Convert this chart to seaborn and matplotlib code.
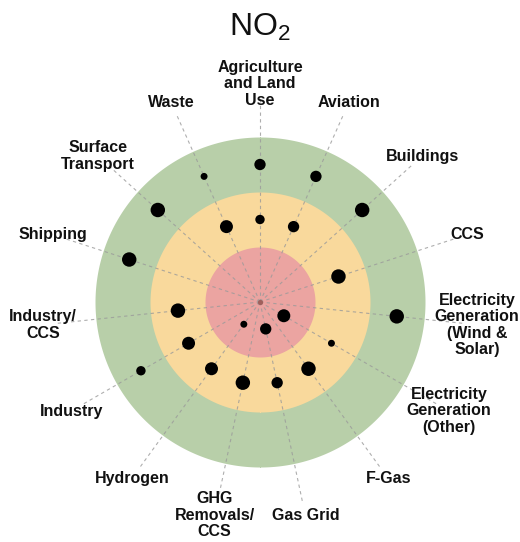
import numpy as np
import pandas as pd
import seaborn as sns
from matplotlib import pyplot as plt

# sectors, clockwise from the top
sectors = ['Agriculture\nand Land\nUse', 'Aviation', 'Buildings', 'CCS',
           'Electricity\nGeneration\n(Wind &\nSolar)', 'Electricity\nGeneration\n(Other)',
           'F-Gas', 'Gas Grid', 'GHG\nRemovals/\nCCS', 'Hydrogen', 'Industry',
           'Industry/\nCCS', 'Shipping', 'Surface\nTransport', 'Waste']

# one entry per dot: sector index, ring (1 = inner red, 3 = outer green), dot size score
dot_sector = [0, 0, 1, 1, 2, 3, 4, 5, 5, 6, 7, 7, 8, 9, 9, 10, 10, 11, 12, 13, 14, 14]
dot_ring = [3, 2, 3, 2, 3, 2, 3, 1, 2, 2, 1, 2, 2, 1, 2, 2, 3, 2, 3, 3, 3, 2]
dot_score = [3, 2, 3, 3, 5, 5, 5, 4, 1, 5, 3, 3, 5, 1, 4, 4, 2, 5, 5, 5, 1, 4]

ring_colors = ['#eba4a1', '#f9d99c', '#b8cfa9']
band = 55

sns.set_style('white')
plt.rcParams['font.family'] = ['Liberation Sans', 'DejaVu Sans']
plt.rcParams['mathtext.default'] = 'regular'

n = len(sectors)
angles = np.arange(n) * 2 * np.pi / n

df = pd.DataFrame({
    'theta': angles[dot_sector],
    'r': (np.array(dot_ring) - 0.5) * band,
    'score': dot_score,
})

fig = plt.figure(figsize=(5.2, 5.42), dpi=100)
ax = fig.add_axes([20 / 520, 0, 480 / 520, 480 / 542], projection='polar')
ax.set_theta_zero_location('N')
ax.set_theta_direction(-1)

# filled rings, outermost first
t = np.linspace(0, 2 * np.pi, 400)
for i in range(3, 0, -1):
    ax.fill_between(t, 0, i * band, color=ring_colors[i - 1], linewidth=0, zorder=1)

# dashed spokes
for a in angles:
    ax.plot([a, a], [0, 205], color='#9a9a9a', alpha=0.8, lw=0.8,
            ls=(0, (3, 3)), zorder=2)

ax.scatter([0], [0], s=14, color='#a0605c', zorder=3, linewidth=0)

sns.scatterplot(data=df, x='theta', y='r', size='score', sizes=(25, 108),
                size_norm=(1, 5), color='black', linewidth=0, legend=False,
                ax=ax, zorder=4)

for a, lab in zip(angles, sectors):
    ax.text(a, 218, lab, ha='center', va='center', fontsize=11.5,
            fontweight='bold', linespacing=1.12, color='#111111', zorder=5)

ax.set_ylim(0, 240)
ax.set_axis_off()

fig.text(0.5, 1 - 36 / 542, 'NO$_2$', fontsize=23, ha='center', va='baseline',
         color='#111111')

fig.savefig('out.png', dpi=100)
